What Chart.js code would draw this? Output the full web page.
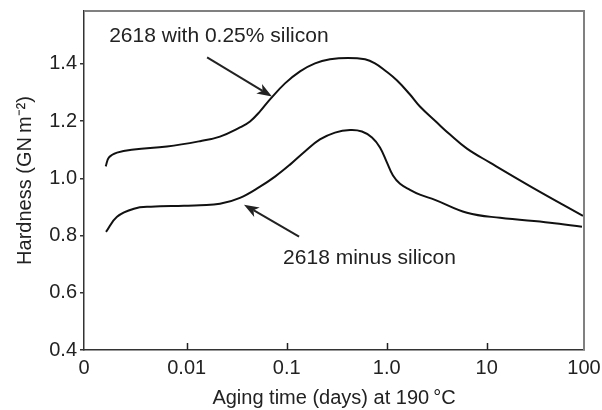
<!DOCTYPE html>
<html>
<head>
<meta charset="utf-8">
<script src="https://cdn.jsdelivr.net/npm/chart.js@4.4.0/dist/chart.umd.min.js"></script>
<style>
  html, body { margin: 0; padding: 0; background: #fff; }
</style>
</head>
<body>
<canvas id="hardnessChart" width="602" height="410"></canvas>
<script>
// Aging time (days) and hardness (GN m^-2)
const agingWithSi = [0.00155, 0.00167, 0.00201, 0.00297, 0.00635, 0.0136, 0.0215, 0.0341, 0.0430, 0.0541,
                     0.0681, 0.0962, 0.136, 0.192, 0.271, 0.410, 0.607, 0.764, 0.962, 1.27, 1.71, 2.15,
                     3.18, 4.30, 6.35, 10.8, 29.0, 91.8];
const hardnessWithSi = [1.042, 1.073, 1.090, 1.101, 1.111, 1.130, 1.146, 1.178, 1.199, 1.234,
                        1.276, 1.332, 1.374, 1.402, 1.416, 1.421, 1.416, 1.402, 1.377, 1.342, 1.293, 1.251,
                        1.195, 1.153, 1.104, 1.055, 0.967, 0.869];

const agingNoSi = [0.00156, 0.00201, 0.00297, 0.00440, 0.00940, 0.0136, 0.0215, 0.0341, 0.0541, 0.0764,
                   0.108, 0.152, 0.215, 0.304, 0.430, 0.566, 0.713, 0.857, 1.007, 1.156, 1.36, 1.71,
                   2.15, 3.04, 6.35, 13.6, 43.0, 89.7];
const hardnessNoSi = [0.813, 0.866, 0.894, 0.901, 0.904, 0.906, 0.911, 0.932, 0.971, 1.006,
                      1.048, 1.094, 1.136, 1.160, 1.169, 1.164, 1.143, 1.108, 1.055, 1.010, 0.981, 0.960,
                      0.943, 0.925, 0.880, 0.862, 0.845, 0.831];

const xMin = 0.00094, xMax = 94;
const xTickValues = [xMin, 0.01, 0.1, 1, 10, xMax];
const xTickLabels = ['0', '0.01', '0.1', '1.0', '10', '100'];
const yTickValues = [0.4, 0.6, 0.8, 1.0, 1.2, 1.4];

// labels with arrows, in data units
const notes = [
    { text: '2618 with 0.25% silicon', x: 0.021, y: 1.496, from: [0.0160, 1.423], to: [0.0713, 1.286] },
    { text: '2618 minus silicon', x: 0.673, y: 0.722, from: [0.133, 0.796], to: [0.0374, 0.908] }
];

const FONT = '"Liberation Sans", Arial, Helvetica, sans-serif';
const INK = '#222';

const toPoints = (xs, ys) => xs.map((x, i) => ({ x: x, y: ys[i] }));

function drawArrow(ctx, x1, y1, x2, y2) {
    const ang = Math.atan2(y2 - y1, x2 - x1);
    const len = 15, half = 5.5;
    const bx = x2 - len * Math.cos(ang), by = y2 - len * Math.sin(ang);
    ctx.beginPath();
    ctx.moveTo(x1, y1);
    ctx.lineTo(bx + 4 * Math.cos(ang), by + 4 * Math.sin(ang));
    ctx.stroke();
    ctx.beginPath();
    ctx.moveTo(x2, y2);
    ctx.lineTo(bx - half * Math.sin(ang), by + half * Math.cos(ang));
    ctx.lineTo(bx + 4 * Math.cos(ang), by + 4 * Math.sin(ang));
    ctx.lineTo(bx + half * Math.sin(ang), by - half * Math.cos(ang));
    ctx.closePath();
    ctx.fill();
}

const frameAndNotes = {
    id: 'frameAndNotes',
    afterDraw(chart) {
        const { ctx, chartArea: a, scales: { x, y } } = chart;
        ctx.save();
        // grey top/right frame
        ctx.strokeStyle = '#808080';
        ctx.lineWidth = 2;
        ctx.beginPath();
        ctx.moveTo(a.left, a.top);
        ctx.lineTo(a.right, a.top);
        ctx.lineTo(a.right, a.bottom);
        ctx.stroke();
        // x tick marks point inward
        ctx.strokeStyle = INK;
        ctx.lineWidth = 1.5;
        xTickValues.slice(1, -1).forEach(v => {
            const px = Math.round(x.getPixelForValue(v)) + 0.5;
            ctx.beginPath();
            ctx.moveTo(px, a.bottom);
            ctx.lineTo(px, a.bottom - 7);
            ctx.stroke();
        });
        // annotations
        ctx.fillStyle = INK;
        ctx.font = '21px ' + FONT;
        ctx.textAlign = 'center';
        ctx.textBaseline = 'middle';
        ctx.lineWidth = 2;
        notes.forEach(n => {
            ctx.fillText(n.text, x.getPixelForValue(n.x), y.getPixelForValue(n.y));
            drawArrow(ctx,
                x.getPixelForValue(n.from[0]), y.getPixelForValue(n.from[1]),
                x.getPixelForValue(n.to[0]), y.getPixelForValue(n.to[1]));
        });
        ctx.restore();
    }
};

const lineStyle = {
    borderColor: '#111',
    borderWidth: 2,
    pointRadius: 0,
    fill: false,
    tension: 0.4
};

new Chart(document.getElementById('hardnessChart').getContext('2d'), {
    type: 'line',
    data: {
        datasets: [
            Object.assign({ label: '2618 with 0.25% silicon', data: toPoints(agingWithSi, hardnessWithSi) }, lineStyle),
            Object.assign({ label: '2618 minus silicon', data: toPoints(agingNoSi, hardnessNoSi) }, lineStyle)
        ]
    },
    options: {
        responsive: false,
        animation: false,
        devicePixelRatio: 1,
        layout: { padding: { top: 11, right: 18, left: 0, bottom: 0 } },
        plugins: { legend: { display: false }, tooltip: { enabled: false } },
        scales: {
            x: {
                type: 'logarithmic',
                min: xMin,
                max: xMax,
                afterBuildTicks: s => { s.ticks = xTickValues.map(v => ({ value: v })); },
                afterFit: s => { s.height = 60; s.paddingLeft = 0; s.paddingRight = 0; },
                grid: { display: false, drawTicks: false },
                border: { display: true, color: '#333', width: 1.5 },
                ticks: {
                    autoSkip: false,
                    maxRotation: 0,
                    padding: 6,
                    color: INK,
                    font: { family: FONT, size: 20 },
                    callback: (v, i) => xTickLabels[i]
                },
                title: {
                    display: true,
                    text: 'Aging time (days) at 190\u2009\u00b0C',
                    color: INK,
                    font: { family: FONT, size: 20 },
                    padding: { top: 0, bottom: 0 }
                }
            },
            y: {
                min: 0.4,
                max: 1.585,
                afterBuildTicks: s => { s.ticks = yTickValues.map(v => ({ value: v })); },
                afterFit: s => { s.width = 84; s.paddingTop = 0; s.paddingBottom = 0; },
                grid: { drawOnChartArea: false, drawTicks: true, tickLength: 4, color: '#333', lineWidth: 1.5 },
                border: { display: true, color: '#333', width: 1.5 },
                ticks: {
                    padding: 3,
                    color: INK,
                    font: { family: FONT, size: 20 },
                    callback: v => v.toFixed(1)
                },
                title: {
                    display: true,
                    text: 'Hardness (GN\u2009m\u207b\u00b2)',
                    color: INK,
                    font: { family: FONT, size: 20 },
                    padding: { top: 13, bottom: 0 }
                }
            }
        }
    },
    plugins: [frameAndNotes]
});
</script>
</body>
</html>
